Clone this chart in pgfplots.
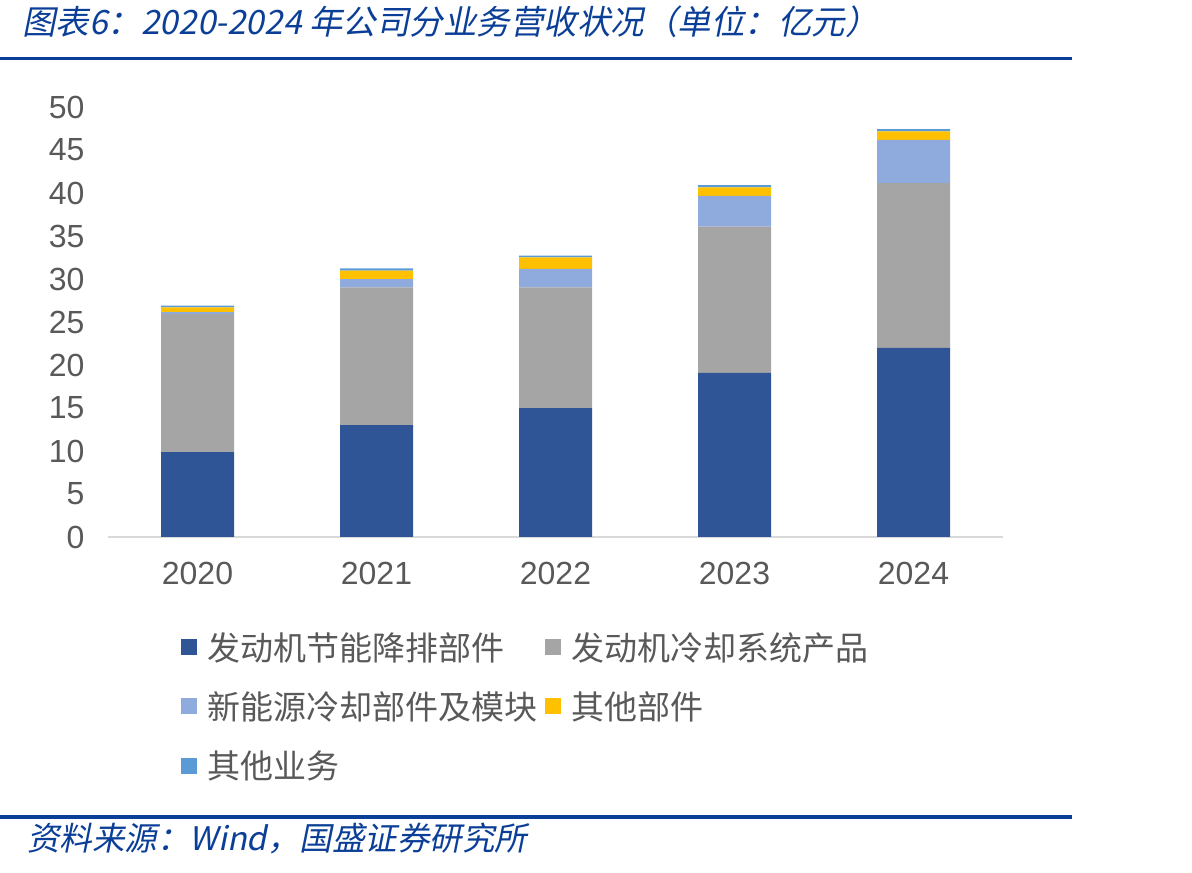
\documentclass[border=0pt]{standalone}
\usepackage{pgfplots}
\pgfplotsset{compat=1.18}
\usepackage{pgfplotstable}
\usepackage{fontspec}
\setmainfont{Liberation Sans}
\newfontfamily\cjk{Noto Sans CJK SC}
\newfontfamily\cjkit[FakeSlant=0.2]{Noto Sans CJK SC}
\definecolor{c1}{HTML}{2F5597}
\definecolor{c2}{HTML}{A5A5A5}
\definecolor{c3}{HTML}{8FAADC}
\definecolor{c4}{HTML}{FFC000}
\definecolor{c5}{HTML}{5B9BD5}
\definecolor{titleblue}{HTML}{0B3F97}
\definecolor{tickc}{HTML}{595959}
\pgfplotstableread{
x a b c d e
0 9.88 16.05 0.23 0.55 0.19
1 13.02 16.01 0.97 0.97 0.28
2 15.00 14.03 2.16 1.33 0.19
3 19.07 17.01 3.60 0.98 0.27
4 21.98 19.18 5.03 0.98 0.27
}\data
\begin{document}
\begin{tikzpicture}[x=1pt,y=1pt]
\useasboundingbox (0,0) rectangle (1192,873);
\node[anchor=west, text=titleblue, font=\cjkit\fontsize{33.5}{38}\selectfont, inner sep=0pt] at (22,851) {图表6：2020-2024 年公司分业务营收状况（单位：亿元）};
\draw[titleblue, line width=3.5pt] (0,814.5) -- (1072,814.5);
\draw[titleblue, line width=3.5pt] (0,56) -- (1072,56);
\node[anchor=west, text=titleblue, font=\cjkit\fontsize{32.5}{36}\selectfont, inner sep=0pt] at (27,35) {资料来源：Wind，国盛证券研究所};
\begin{axis}[
  at={(108pt,336pt)}, anchor=south west,
  scale only axis, width=895pt, height=430pt,
  ybar stacked, bar width=73pt,
  xmin=-0.5, xmax=4.5, ymin=0, ymax=50,
  xtick={0,1,2,3,4}, xticklabels={2020,2021,2022,2023,2024},
  ytick={0,5,...,50},
  axis x line=bottom, axis y line=left,
  x axis line style={draw=black!15, line width=2pt, -},
  y axis line style={draw=none},
  major tick length=0pt,
  tick label style={font=\fontsize{32}{36}\selectfont, text=tickc},
  /pgf/number format/assume math mode=true,
  yticklabel style={xshift=-20pt},
  xticklabel style={yshift=-22pt},
  legend image code/.code={\fill[#1] (0pt,-8pt) rectangle (16pt,8pt);},
  legend columns=2,
  legend style={draw=none, fill=none, anchor=north west, at={(axis description cs:0.0816,-0.221)},
    font=\cjk\fontsize{33}{36}\selectfont, text=tickc, inner sep=0pt,
    nodes={inner sep=0pt, anchor=west},
    /tikz/every odd column/.append style={column sep=10pt},
    /tikz/every even column/.append style={column sep=8pt},
    row sep=30pt},
]
\addplot[fill=c1, draw=none] table[x=x,y=a]{\data};
\addplot[fill=c2, draw=none] table[x=x,y=b]{\data};
\addplot[fill=c3, draw=none] table[x=x,y=c]{\data};
\addplot[fill=c4, draw=none] table[x=x,y=d]{\data};
\addplot[fill=c5, draw=none] table[x=x,y=e]{\data};
\legend{发动机节能降排部件,发动机冷却系统产品,新能源冷却部件及模块,其他部件,其他业务}
\end{axis}
\end{tikzpicture}
\end{document}
